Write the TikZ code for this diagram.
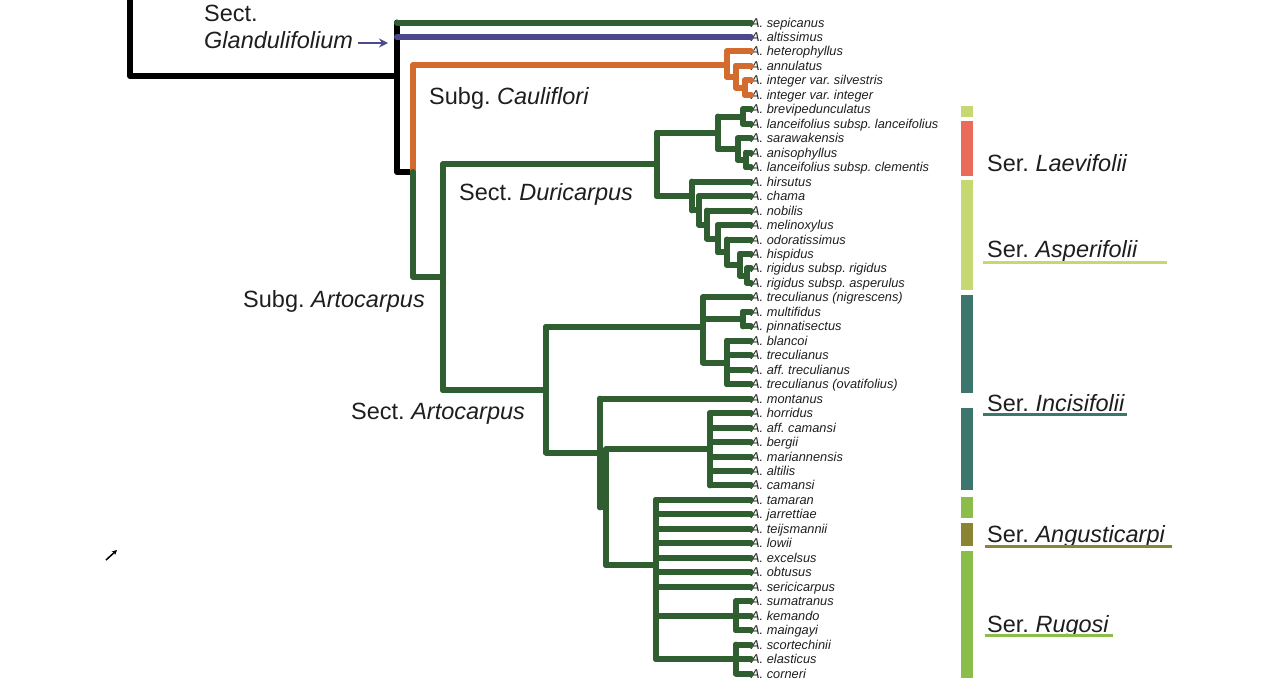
\documentclass[tikz,border=0pt]{standalone}
\usepackage{fontspec}
\setmainfont{Liberation Sans}
\usetikzlibrary{arrows.meta}
\frenchspacing
\definecolor{dgreen}{RGB}{47,94,49}
\definecolor{dpurple}{RGB}{76,74,140}
\definecolor{dorange}{RGB}{212,107,46}
\definecolor{barlight}{RGB}{197,216,114}
\definecolor{barred}{RGB}{235,107,90}
\definecolor{barteal}{RGB}{61,118,108}
\definecolor{barmid}{RGB}{139,189,75}
\definecolor{barolive}{RGB}{138,132,51}
\definecolor{txt}{RGB}{30,30,30}
\newcommand{\spine}[4]{\draw[#1] (#2 |- #3) -- (#2 |- #4);}
\newcommand{\kids}[3]{\foreach \cc in {#3} {\draw[#1] (#2 |- \cc) -- (\cc);}}
\begin{document}
\begin{tikzpicture}[x=1pt,y=-1pt,
  br/.style={line width=6pt,line cap=round,line join=round},
  g/.style={br,draw=dgreen},
  o/.style={br,draw=dorange},
  pu/.style={br,draw=dpurple},
  bk/.style={br,draw=black},
  tip/.style={anchor=west,inner sep=0pt,text height=9pt,text depth=0pt,text=txt,
    font=\fontsize{12.8}{14}\selectfont\itshape},
  clade/.style={anchor=base west,inner sep=0pt,text=txt,font=\fontsize{23.5}{26}\selectfont},
  ul/.style={line width=3pt}]
\useasboundingbox (0,0) rectangle (1283,694);

% tips
\foreach \nm [count=\i] in {sepicanus, altissimus, heterophyllus, annulatus,
  integer var. silvestris, integer var. integer, brevipedunculatus,
  lanceifolius subsp. lanceifolius, sarawakensis, anisophyllus,
  lanceifolius subsp. clementis, hirsutus, chama, nobilis, melinoxylus,
  odoratissimus, hispidus, rigidus subsp. rigidus, rigidus subsp. asperulus,
  treculianus (nigrescens), multifidus, pinnatisectus, blancoi, treculianus,
  aff. treculianus, treculianus (ovatifolius), montanus, horridus,
  aff. camansi, bergii, mariannensis, altilis, camansi, tamaran, jarrettiae,
  teijsmannii, lowii, excelsus, obtusus, sericicarpus, sumatranus, kemando,
  maingayi, scortechinii, elasticus, corneri}
  {\node[tip] (t\i) at (751,{22.5+14.467*(\i-1)}) {A. \nm};}

% internal nodes
\coordinate (r0) at (130,-6);
\coordinate (r1) at (130,76);
\coordinate (G) at (397,76);
\coordinate (S) at (413,172);
\coordinate (C1) at (727,65);
\coordinate (C2) at (736,76.8);
\coordinate (C3) at (745,87.6);
\coordinate (A1) at (443,277);
\coordinate (D) at (657,164.4);
\coordinate (L) at (718,132.8);
\coordinate (l1) at (743,116.5);
\coordinate (l2) at (738,149.1);
\coordinate (l3) at (746,159.9);
\coordinate (P) at (692,196);
\coordinate (a1) at (699,210.4);
\coordinate (a2) at (707,224.6);
\coordinate (a3) at (718,238.6);
\coordinate (a4) at (727,252.2);
\coordinate (a5) at (740,264.8);
\coordinate (a6) at (747,275.7);
\coordinate (B) at (546,390);
\coordinate (I1) at (703,327);
\coordinate (i1) at (743,319.1);
\coordinate (i2) at (727,362.5);
\coordinate (M) at (600,452.5);
\coordinate (M2) at (606,507.4);
\coordinate (H) at (710,449.3);
\coordinate (R) at (656,565);
\coordinate (r1a) at (736,615.6);
\coordinate (r2a) at (736,659);

% root (black)
\draw[bk] (r0) -- (r1) -- (G);
\draw[bk] (G |- t1.west) -- (G |- S) -- (S);
\draw[g] (G |- t1.west) -- (t1.west);
\draw[pu] (G |- t2.west) -- (t2.west);

% Cauliflori (orange)
\draw[o] (S) -- (S |- C1) -- (C1);
\spine{o}{C1}{t3.west}{C2} \kids{o}{C1}{t3.west,C2}
\spine{o}{C2}{t4.west}{C3} \kids{o}{C2}{t4.west,C3}
\spine{o}{C3}{t5.west}{t6.west} \kids{o}{C3}{t5.west,t6.west}

% Artocarpus (green)
\draw[g] (S) -- (S |- A1) -- (A1);
\spine{g}{A1}{D}{B} \kids{g}{A1}{D,B}
\spine{g}{D}{L}{P} \kids{g}{D}{L,P}
\spine{g}{L}{l1}{l2} \kids{g}{L}{l1,l2}
\spine{g}{l1}{t7.west}{t8.west} \kids{g}{l1}{t7.west,t8.west}
\spine{g}{l2}{t9.west}{l3} \kids{g}{l2}{t9.west,l3}
\spine{g}{l3}{t10.west}{t11.west} \kids{g}{l3}{t10.west,t11.west}
\spine{g}{P}{t12.west}{a1} \kids{g}{P}{t12.west,a1}
\spine{g}{a1}{t13.west}{a2} \kids{g}{a1}{t13.west,a2}
\spine{g}{a2}{t14.west}{a3} \kids{g}{a2}{t14.west,a3}
\spine{g}{a3}{t15.west}{a4} \kids{g}{a3}{t15.west,a4}
\spine{g}{a4}{t16.west}{a5} \kids{g}{a4}{t16.west,a5}
\spine{g}{a5}{t17.west}{a6} \kids{g}{a5}{t17.west,a6}
\spine{g}{a6}{t18.west}{t19.west} \kids{g}{a6}{t18.west,t19.west}
\spine{g}{B}{I1}{M} \kids{g}{B}{I1,M}
\spine{g}{I1}{t20.west}{i2} \kids{g}{I1}{t20.west,i1,i2}
\spine{g}{i1}{t21.west}{t22.west} \kids{g}{i1}{t21.west,t22.west}
\spine{g}{i2}{t23.west}{t26.west} \kids{g}{i2}{t23.west,t24.west,t25.west,t26.west}
\spine{g}{M}{t27.west}{M2} \kids{g}{M}{t27.west,M2}
\spine{g}{M2}{H}{R} \kids{g}{M2}{H,R}
\spine{g}{H}{t28.west}{t33.west} \kids{g}{H}{t28.west,t29.west,t30.west,t31.west,t32.west,t33.west}
\spine{g}{R}{t34.west}{r2a} \kids{g}{R}{t34.west,t35.west,t36.west,t37.west,t38.west,t39.west,t40.west,r1a,r2a}
\spine{g}{r1a}{t41.west}{t43.west} \kids{g}{r1a}{t41.west,t42.west,t43.west}
\spine{g}{r2a}{t44.west}{t46.west} \kids{g}{r2a}{t44.west,t45.west,t46.west}

% clade labels
\node[clade] (glsect) at (204,21) {Sect.};
\node[clade] (glname) at (204,48) {\itshape Glandulifolium};
\coordinate (ga0) at (358,43);
\coordinate (ga1) at (388,43);
\draw[dpurple,line width=2.5pt,-{Stealth[length=9pt,width=9pt]}] (ga0) -- (ga1);
\node[clade] (cau) at (429,104) {Subg. \textit{Cauliflori}};
\node[clade] (dur) at (459,200) {Sect. \textit{Duricarpus}};
\node[clade] (sart) at (243,307) {Subg. \textit{Artocarpus}};
\node[clade] (secart) at (351,419) {Sect. \textit{Artocarpus}};

% series bars
\fill[barlight] (961,106) rectangle (973,117);
\fill[barred] (961,121) rectangle (973,176);
\fill[barlight] (961,180) rectangle (973,290);
\fill[barteal] (961,295) rectangle (973,393);
\fill[barteal] (961,408) rectangle (973,490);
\fill[barmid] (961,497) rectangle (973,518);
\fill[barolive] (961,523) rectangle (973,546);
\fill[barmid] (961,551) rectangle (973,678);

% series labels
\node[clade] (laev) at (987,171) {Ser. \textit{Laevifolii}};
\node[clade] (asp) at (987,257) {Ser. \textit{Asperifolii}};
\node[clade] (inc) at (987,411) {Ser. \textit{Incisifolii}};
\node[clade] (ang) at (987,542) {Ser. \textit{Angusticarpi}};
\node[clade] (rug) at (987,632) {Ser. \textit{Rugosi}};
\draw[ul,barlight] (983,262) -- (1167,262);
\draw[ul,barteal] (983,414) -- (1127,414);
\draw[ul,barolive] (985,546) -- (1172,546);
\draw[ul,barmid] (985,635) -- (1113,635);

% small arrow
\coordinate (sa0) at (106,560);
\coordinate (sa1) at (117,550);
\draw[black,line width=1.5pt,-{Stealth[length=5pt,width=5pt]}] (sa0) -- (sa1);
\end{tikzpicture}
\end{document}
